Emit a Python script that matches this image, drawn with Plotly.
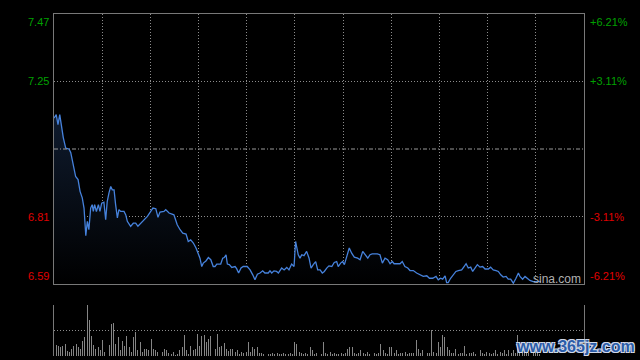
import plotly.graph_objects as go

# ---------------- data ----------------
prev_close = 7.03
pct_span = 0.0621

minutes = [0, 1.0, 1.8, 2.6, 3.3, 4.2, 5.3, 6.8, 7.6, 8.7,
           9.8, 10.9, 11.8, 12.8, 13.6, 14.4, 15.1, 15.8, 16.6, 17.3,
           17.8, 18.4, 19.2, 20.1, 20.8, 21.6, 22.6, 23.4, 24.1, 24.9,
           25.7, 26.4, 27.2, 27.9, 28.7, 29.4, 30.2, 31.7, 32.5, 33.2,
           34.7, 35.9, 37.0, 38.0, 39.3, 40.8, 42.3, 43.8, 44.8, 46.1,
           47.1, 48.0, 49.8, 50.6, 52.1, 54.3, 54.8, 55.8, 57.1, 58.3,
           59.8, 60.8, 61.9, 63.1, 64.3, 65.3, 66.1, 66.9, 67.6, 68.8,
           69.9, 71.0, 72.1, 72.9, 73.7, 75.5, 76.4, 77.1, 77.9, 78.5,
           79.4, 80.5, 82.0, 82.7, 83.6, 84.7, 85.7, 87.5, 88.8, 90.0,
           91.0, 92.1, 93.3, 94.5, 95.5, 97.0, 97.8, 98.6, 99.6, 100.8,
           101.6, 103.1, 104.2, 105.4, 106.4, 107.6, 108.7, 109.4, 110.6, 111.4,
           112.2, 113.2, 114.4, 115.5, 116.4, 117.4, 118.5, 119.4, 120.5, 121.5,
           122.4, 123.5, 124.5, 125.8, 126.9, 128.0, 128.7, 129.8, 130.7, 131.5,
           132.5, 133.7, 134.8, 136.0, 137.5, 138.6, 139.8, 140.8, 142.1, 143.1,
           144.1, 146.4, 147.6, 148.7, 149.9, 151.1, 152.2, 153.2, 154.0, 156.7,
           157.7, 158.9, 160.2, 161.2, 162.7, 164.2, 165.7, 167.2, 168.8, 170.0,
           171.5, 173.0, 174.0, 175.1, 176.0, 177.1, 177.8, 178.5, 179.6, 180.8,
           182.0, 183.1, 184.6, 185.7, 186.6, 187.6, 188.7, 189.6, 190.7, 191.7,
           192.9, 194.1, 195.2, 196.7, 197.7, 198.9, 200.2, 201.2, 202.3, 203.4,
           204.7, 205.7, 206.8, 208.0, 209.2, 210.3, 211.0, 212.2, 213.3, 214.3,
           215.5, 217.0, 220.5]

prices = [7.130, 7.141, 7.109, 7.141, 7.109, 7.067, 7.033, 7.030, 7.018, 6.979,
          6.941, 6.931, 6.893, 6.872, 6.839, 6.750, 6.796, 6.769, 6.839, 6.850,
          6.828, 6.850, 6.828, 6.850, 6.828, 6.855, 6.858, 6.801, 6.860, 6.888,
          6.909, 6.898, 6.898, 6.850, 6.807, 6.834, 6.828, 6.828, 6.817, 6.796,
          6.780, 6.790, 6.790, 6.780, 6.790, 6.801, 6.812, 6.828, 6.839, 6.837,
          6.809, 6.826, 6.828, 6.834, 6.823, 6.817, 6.807, 6.785, 6.769, 6.758,
          6.755, 6.731, 6.736, 6.726, 6.710, 6.693, 6.677, 6.650, 6.661, 6.668,
          6.679, 6.672, 6.650, 6.650, 6.658, 6.658, 6.677, 6.679, 6.688, 6.658,
          6.656, 6.647, 6.650, 6.643, 6.629, 6.645, 6.650, 6.650, 6.639, 6.623,
          6.607, 6.625, 6.629, 6.636, 6.629, 6.629, 6.636, 6.629, 6.636, 6.634,
          6.629, 6.645, 6.639, 6.647, 6.639, 6.658, 6.650, 6.731, 6.688, 6.677,
          6.688, 6.685, 6.699, 6.677, 6.645, 6.656, 6.666, 6.639, 6.639, 6.629,
          6.634, 6.645, 6.652, 6.650, 6.663, 6.666, 6.650, 6.661, 6.666, 6.656,
          6.682, 6.710, 6.693, 6.680, 6.677, 6.672, 6.699, 6.688, 6.677, 6.688,
          6.691, 6.691, 6.688, 6.661, 6.677, 6.672, 6.659, 6.666, 6.659, 6.659,
          6.666, 6.650, 6.645, 6.637, 6.637, 6.629, 6.623, 6.618, 6.620, 6.612,
          6.612, 6.618, 6.607, 6.612, 6.609, 6.620, 6.598, 6.598, 6.612, 6.623,
          6.634, 6.637, 6.639, 6.650, 6.659, 6.645, 6.648, 6.634, 6.645, 6.656,
          6.648, 6.650, 6.642, 6.642, 6.648, 6.639, 6.637, 6.634, 6.623, 6.616,
          6.618, 6.609, 6.609, 6.596, 6.612, 6.629, 6.618, 6.609, 6.618, 6.612,
          6.605, 6.601, 6.601]

volumes = [62, 22, 20, 17, 20, 24, 10, 7, 14, 20,
           24, 17, 14, 30, 37, 100, 70, 40, 22, 14,
           17, 11, 32, 7, 6, 21, 62, 64, 24, 38,
           11, 30, 20, 39, 17, 7, 37, 47, 11, 27,
           7, 14, 14, 11, 34, 14, 11, 7, 11, 7,
           13, 11, 6, 4, 7, 2, 4, 11, 17, 42,
           11, 4, 20, 11, 14, 44, 20, 40, 42, 27,
           34, 40, 39, 14, 44, 17, 20, 25, 14, 9,
           13, 14, 7, 11, 4, 7, 6, 7, 27, 7,
           17, 14, 17, 6, 6, 4, 5, 3, 4, 6,
           3, 5, 4, 3, 6, 4, 3, 5, 4, 27,
           24, 7, 5, 4, 6, 3, 17, 11, 4, 5,
           7, 4, 27, 5, 3, 7, 4, 5, 3, 4,
           6, 4, 5, 14, 17, 17, 5, 4, 6, 11,
           5, 4, 7, 3, 5, 6, 4, 5, 24, 11,
           5, 4, 17, 17, 5, 11, 4, 6, 5, 7,
           4, 5, 6, 5, 32, 14, 5, 11, 4, 6,
           5, 51, 7, 6, 27, 17, 42, 37, 17, 11,
           5, 6, 14, 4, 5, 6, 19, 4, 6, 5,
           7, 4, 3, 11, 5, 4, 7, 5, 4, 6,
           11, 4, 7, 5, 11, 4, 11, 5, 11, 6,
           42, 17, 7, 14, 11, 6, 8, 5, 9, 6, 4]

left_labels = ["7.47", "7.25", "6.81", "6.59"]
right_labels = ["+6.21%", "+3.11%", "-3.11%", "-6.21%"]
label_colors = ["#00a000", "#00a000", "#e00000", "#e00000"]

session_minutes = 240
n_vdiv = 11

# ---------------- derived scales ----------------
y_hi = prev_close * (1 + pct_span)
y_lo = prev_close * (1 - pct_span)
y_mid_hi = prev_close * (1 + pct_span / 2)
y_mid_lo = prev_close * (1 - pct_span / 2)
label_levels = [y_hi, y_mid_hi, y_mid_lo, y_lo]
label_anchor = ["top", "middle", "middle", "bottom"]

W, H = 640, 360
L, R = 54, 584
P_TOP, P_BOT = 14, 284
V_TOP, V_BOT = 305, 356

frame = "#787878"
dotc = "#8c8c8c"

fig = go.Figure()

fig.add_trace(go.Scatter(
    x=minutes, y=prices, mode="lines",
    line=dict(color="#4682dc", width=1.3),
    fill="tozeroy",
    fillgradient=dict(type="vertical",
                      colorscale=[[0, "#000000"], [1, "#0f1b2e"]],
                      start=y_lo, stop=max(prices)),
    xaxis="x", yaxis="y", hoverinfo="skip", showlegend=False))

fig.add_trace(go.Bar(
    x=list(range(len(volumes))), y=volumes,
    marker=dict(color="#858585", line=dict(width=0)),
    width=0.42, xaxis="x2", yaxis="y2", hoverinfo="skip", showlegend=False))

xt = [session_minutes * k / n_vdiv for k in range(1, n_vdiv)]

fig.update_layout(
    width=W, height=H,
    margin=dict(l=0, r=0, t=0, b=0),
    paper_bgcolor="#000000", plot_bgcolor="#000000",
    bargap=0,
    xaxis=dict(domain=[L / W, R / W], range=[0, session_minutes],
               tickvals=xt, showticklabels=False, ticks="",
               showgrid=True, gridcolor=dotc, griddash="1px,2px", gridwidth=1,
               showline=True, linecolor=frame, linewidth=1, mirror=True,
               zeroline=False, anchor="y"),
    yaxis=dict(domain=[1 - P_BOT / H, 1 - P_TOP / H], range=[y_lo, y_hi],
               tickvals=[y_mid_hi, y_mid_lo], showticklabels=False, ticks="",
               showgrid=True, gridcolor=dotc, griddash="1px,2px", gridwidth=1,
               showline=True, linecolor=frame, linewidth=1, mirror=True,
               zeroline=False, anchor="x"),
    xaxis2=dict(domain=[L / W, R / W], range=[0, session_minutes],
                showticklabels=False, ticks="", showgrid=False,
                showline=False, zeroline=False, anchor="y2"),
    yaxis2=dict(domain=[1 - V_BOT / H, 1 - V_TOP / H], range=[0, max(volumes)],
                tickvals=[max(volumes) / 2, max(volumes)], showticklabels=False, ticks="",
                showgrid=True, gridcolor=dotc, griddash="1px,2px", gridwidth=1,
                showline=True, linecolor=frame, linewidth=1, mirror=True,
                zeroline=False, anchor="x2"),
)

# previous close reference line
fig.add_shape(type="line", xref="x domain", yref="y", x0=0, x1=1,
              y0=prev_close, y1=prev_close,
              line=dict(color="#9a9a9a", width=1, dash="4px,2px,1px,2px"))

font_lbl = "Liberation Sans, Arial, sans-serif"
for lv, lt, rt, col, anc in zip(label_levels, left_labels, right_labels, label_colors, label_anchor):
    fig.add_annotation(xref="paper", yref="y", x=(L - 3) / W, y=lv, text=lt,
                       showarrow=False, xanchor="right", yanchor=anc,
                       font=dict(family=font_lbl, size=11, color=col))
    fig.add_annotation(xref="paper", yref="y", x=(R + 4) / W, y=lv, text=rt,
                       showarrow=False, xanchor="left", yanchor=anc,
                       font=dict(family=font_lbl, size=11, color=col))

fig.add_annotation(xref="paper", yref="paper", x=531 / W, y=1 - 279 / H, text="sina.com",
                   showarrow=False, xanchor="left", yanchor="middle",
                   font=dict(family=font_lbl, size=12, color="#b0b0b0"))

fig.add_annotation(xref="paper", yref="paper", x=514 / W, y=1 - 346 / H,
                   text="<b>www.365jz.com</b>",
                   showarrow=False, xanchor="left", yanchor="middle",
                   font=dict(family=font_lbl, size=16, color="#2b5ca8",
                             shadow="1px 1px 0 #d0d8e8, -1px -1px 0 #d0d8e8, 1px -1px 0 #d0d8e8, -1px 1px 0 #d0d8e8"))

fig.write_html("out.html", config={"displayModeBar": False, "staticPlot": True},
               post_script="document.body.style.margin='0';document.body.style.overflow='hidden';")
